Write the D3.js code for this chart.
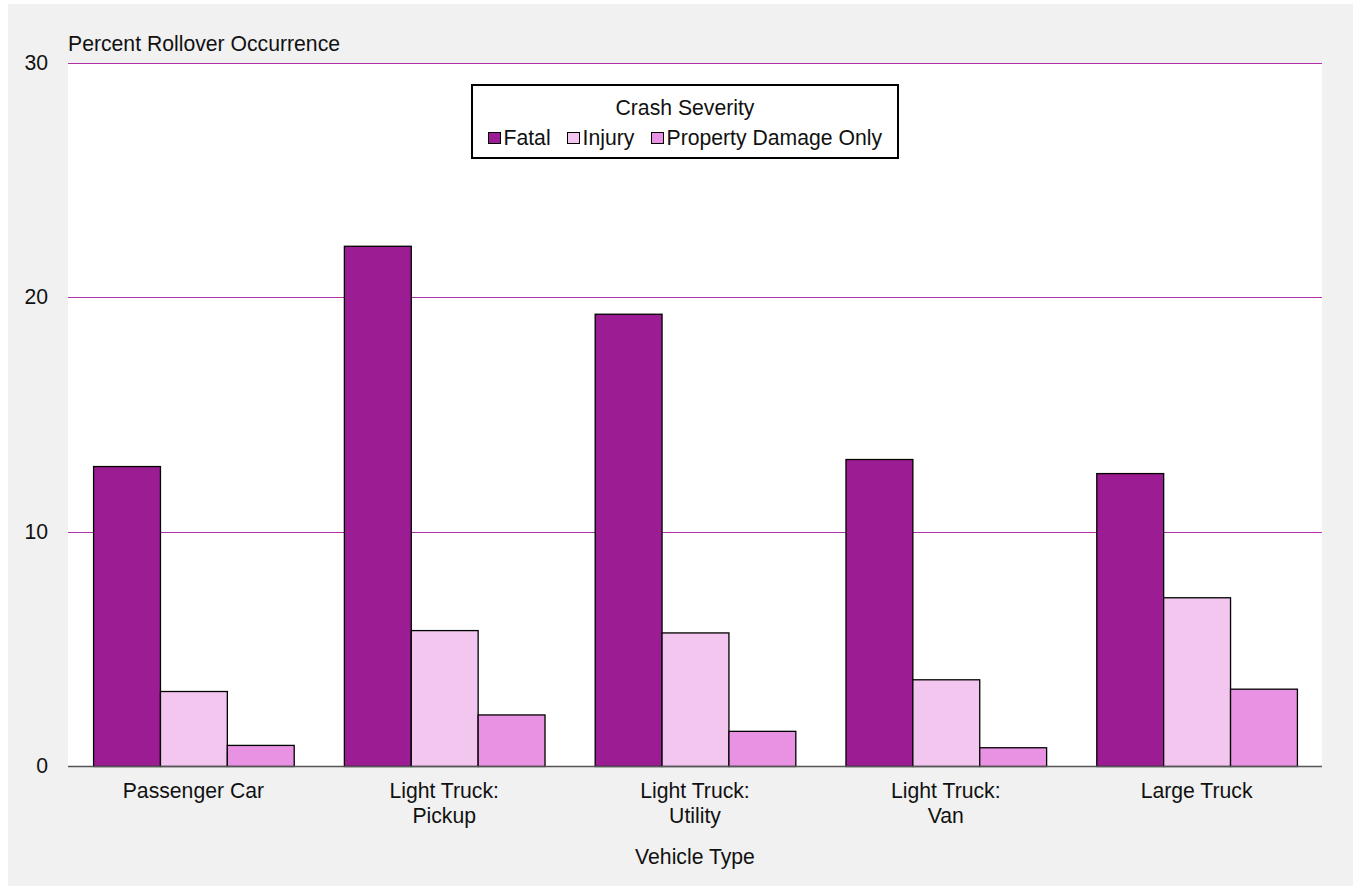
<!DOCTYPE html>
<html><head><meta charset="utf-8">
<script src="https://cdn.jsdelivr.net/npm/d3@7"></script>
<style>
html,body{margin:0;padding:0;background:#fff;}
svg{display:block;font-family:"Liberation Sans",Arial,sans-serif;}
</style></head>
<body>
<svg id="chart" width="1353" height="886"></svg>
<script>
const categories = [["Passenger Car"],["Light Truck:","Pickup"],["Light Truck:","Utility"],["Light Truck:","Van"],["Large Truck"]];
const seriesNames = ["Fatal","Injury","Property Damage Only"];
const fatal = [12.8, 22.2, 19.3, 13.1, 12.5];
const injury = [3.2, 5.8, 5.7, 3.7, 7.2];
const propertyDamage = [0.9, 2.2, 1.5, 0.8, 3.3];
const yTicks = [0, 10, 20, 30];
const colors = ["#9c1c94", "#f3c6f0", "#e991e2"];

const FS = 21.2;
const svg = d3.select("#chart");
svg.append("rect").attr("x",8).attr("y",4).attr("width",1345).attr("height",882).attr("fill","#f1f1f1");

const M = {l:68, r:1322, t:63, b:766};
svg.append("rect").attr("x",M.l).attr("y",M.t).attr("width",M.r-M.l).attr("height",M.b-M.t).attr("fill","#fff");

const idx = d3.range(categories.length);
const x = d3.scaleBand().domain(idx).range([M.l, M.r]).paddingInner(0.2).paddingOuter(0.1);
const xs = d3.scaleBand().domain(d3.range(seriesNames.length)).range([0, x.bandwidth()]);
const y = d3.scaleLinear().domain([0,30]).range([M.b, M.t]);

// gridlines
svg.append("g").selectAll("line").data(yTicks.filter(d=>d>0)).join("line")
  .attr("x1",M.l).attr("x2",M.r)
  .attr("y1",d=>Math.round(y(d))+0.5).attr("y2",d=>Math.round(y(d))+0.5)
  .attr("stroke","#b030a8").attr("stroke-width",1.2)
  .attr("shape-rendering","crispEdges");

// y tick labels
svg.append("g").selectAll("text").data(yTicks).join("text")
  .attr("x",48).attr("y",d=>y(d)+7).attr("text-anchor","end")
  .attr("font-size",FS).attr("fill","#111").text(d=>d);

// bars
const data = [fatal, injury, propertyDamage];
const g = svg.append("g");
data.forEach((vals, s) => {
  g.selectAll(null).data(vals).join("rect")
    .attr("x",(d,i)=>x(i)+xs(s)+0.5)
    .attr("y",d=>y(d)+0.5)
    .attr("width",xs.bandwidth())
    .attr("height",d=>M.b-y(d))
    .attr("fill",colors[s]).attr("stroke","#000").attr("stroke-width",1.3);
});

// x axis baseline
svg.append("line").attr("x1",M.l).attr("x2",M.r).attr("y1",M.b+0.5).attr("y2",M.b+0.5)
  .attr("stroke","#555").attr("stroke-width",1.3);

// x labels
const xl = svg.append("g");
categories.forEach((lines,i)=>{
  const cx = x(i)+x.bandwidth()/2;
  const t = xl.append("text").attr("x",cx).attr("y",798)
    .attr("text-anchor","middle").attr("font-size",FS).attr("fill","#111");
  lines.forEach((ln,k)=>t.append("tspan").attr("x",cx).attr("dy",k?25:0).text(ln));
});

svg.append("text").attr("x",(M.l+M.r)/2).attr("y",864).attr("text-anchor","middle")
  .attr("font-size",FS).attr("fill","#111").text("Vehicle Type");
svg.append("text").attr("x",M.l).attr("y",51).attr("font-size",FS).attr("fill","#111")
  .text("Percent Rollover Occurrence");

// legend
const lg = svg.append("g");
lg.append("rect").attr("x",472).attr("y",85).attr("width",426).attr("height",73)
  .attr("fill","#fff").attr("stroke","#000").attr("stroke-width",2);
lg.append("text").attr("x",685).attr("y",115).attr("text-anchor","middle")
  .attr("font-size",FS).attr("fill","#111").text("Crash Severity");
const legX = [488, 567, 651];
seriesNames.forEach((n,i)=>{
  lg.append("rect").attr("x",legX[i]+0.5).attr("y",132.5).attr("width",12).attr("height",11)
    .attr("fill",colors[i]).attr("stroke","#000").attr("stroke-width",1);
  lg.append("text").attr("x",legX[i]+15.5).attr("y",145).attr("font-size",FS).attr("fill","#111").text(n);
});
</script>
</body></html>
